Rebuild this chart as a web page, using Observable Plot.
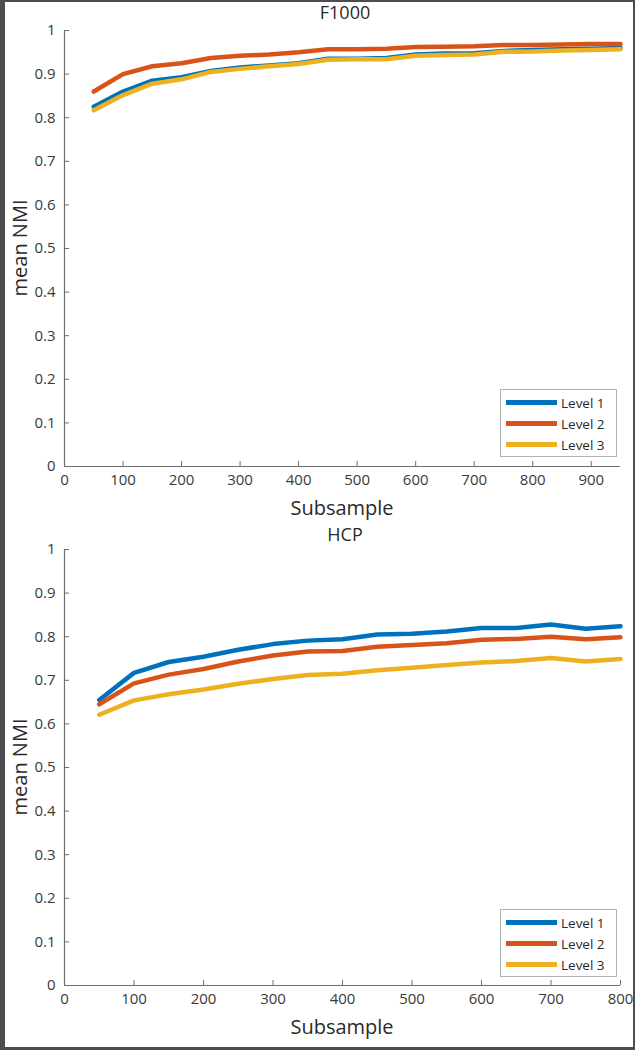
<!DOCTYPE html>
<html>
<head>
<meta charset="utf-8">
<script src="https://cdn.jsdelivr.net/npm/d3@7"></script>
<script src="https://cdn.jsdelivr.net/npm/@observablehq/plot@0.6"></script>
<style>
  html, body { margin: 0; padding: 0; background: #4d4d4d; }
  #frame { position: relative; width: 635px; height: 1050px; background: #4d4d4d; overflow: hidden; }
  #inner { position: absolute; left: 5px; top: 2px; right: 2px; bottom: 3px; background: #fff; }
  .abs { position: absolute; font-family: "Open Sans", sans-serif; color: #2a2a2a; line-height: 1; }
  .title { font-size: 18px; transform: translateX(-50%); white-space: nowrap; }
  .xlab { font-size: 20px; transform: translateX(-50%); white-space: nowrap; }
  .ylab { font-size: 20px; transform: translate(-50%, -50%) rotate(-90deg); white-space: nowrap; }
  .legend { border: 1px solid #b4b4b4; background: #fff; box-sizing: border-box; }
  .legrow { position: absolute; left: 0; height: 20px; width: 100%; }
  .legline { position: absolute; left: 5px; width: 51px; height: 5px; top: 7px; }
  .legtxt { position: absolute; left: 60px; top: 0; font-size: 13.5px; line-height: 20px; font-family: "Open Sans", sans-serif; color: #2a2a2a; }
  svg { position: absolute; left: 0; }
</style>
</head>
<body>
<div id="frame"><div id="inner"></div></div>
<script>
// ---- data ----
const levels = ["Level 1", "Level 2", "Level 3"];
const colors = ["#0072BD", "#D95319", "#EDB120"];

const f1000X = [50,100,150,200,250,300,350,400,450,500,550,600,650,700,750,800,850,900,950];
const f1000L1 = [0.825,0.860,0.885,0.893,0.907,0.915,0.920,0.925,0.935,0.935,0.937,0.945,0.947,0.948,0.953,0.955,0.957,0.958,0.960];
const f1000L2 = [0.860,0.900,0.918,0.925,0.937,0.942,0.945,0.950,0.957,0.957,0.958,0.962,0.963,0.964,0.967,0.967,0.968,0.969,0.969];
const f1000L3 = [0.817,0.852,0.878,0.888,0.905,0.912,0.918,0.923,0.933,0.934,0.934,0.942,0.944,0.945,0.951,0.952,0.954,0.955,0.957];

const hcpX = [50,100,150,200,250,300,350,400,450,500,550,600,650,700,750,800];
const hcpL1 = [0.655,0.717,0.742,0.754,0.770,0.783,0.791,0.794,0.805,0.807,0.812,0.820,0.820,0.828,0.818,0.824];
const hcpL2 = [0.645,0.693,0.713,0.726,0.743,0.757,0.766,0.767,0.777,0.781,0.785,0.793,0.795,0.800,0.794,0.799];
const hcpL3 = [0.621,0.654,0.668,0.679,0.692,0.703,0.712,0.715,0.723,0.729,0.735,0.741,0.744,0.751,0.743,0.749];

const yTicks = [0,0.1,0.2,0.3,0.4,0.5,0.6,0.7,0.8,0.9,1];
const yTickLabels = ["0","0.1","0.2","0.3","0.4","0.5","0.6","0.7","0.8","0.9","1"];
const f1000XTicks = [0,100,200,300,400,500,600,700,800,900];
const hcpXTicks = [0,100,200,300,400,500,600,700,800];

function rows(xs, series) {
  const out = [];
  series.forEach((vals, i) => vals.forEach((v, j) => out.push({x: xs[j], y: v, level: levels[i]})));
  return out;
}

const frame = document.getElementById("frame");
const axisColor = "#6e6e6e";
const textColor = "#3a3a3a";

function panel({top, xDomain, xTicks, data, title, titleTop, legendTop}) {
  const svg = Plot.plot({
    width: 635,
    height: 500,
    marginTop: 30,
    marginBottom: 500 - 30 - 436,
    marginLeft: 64,
    marginRight: 15,
    style: {fontFamily: "'Open Sans', sans-serif", fontSize: "15px", color: textColor, background: "transparent", overflow: "visible"},
    x: {domain: xDomain, label: null},
    y: {domain: [0, 1], label: null},
    color: {domain: levels, range: colors},
    marks: [
      Plot.ruleX([0], {stroke: axisColor, strokeWidth: 1.2}),
      Plot.ruleY([0], {stroke: axisColor, strokeWidth: 1.2}),
      Plot.axisY({ticks: yTicks, tickSize: 5, text: null, dx: 5, stroke: axisColor, label: null}),
      Plot.axisX({ticks: xTicks, tickSize: 5, text: null, dy: -5, stroke: axisColor, label: null}),
      Plot.axisY({ticks: yTicks, tickSize: 0, tickPadding: 9, tickFormat: (d) => yTickLabels[yTicks.indexOf(d)], label: null, fill: textColor}),
      Plot.axisX({ticks: xTicks, tickSize: 0, tickPadding: 8, tickFormat: (d) => String(d), label: null, fill: textColor}),
      Plot.line(data, {x: "x", y: "y", z: "level", stroke: "level", strokeWidth: 4.5, strokeLinejoin: "round"})
    ]
  });
  svg.style.top = top + "px";
  frame.appendChild(svg);

  const t = document.createElement("div");
  t.className = "abs title";
  t.style.left = "345px"; t.style.top = titleTop + "px";
  t.textContent = title;
  frame.appendChild(t);

  const xl = document.createElement("div");
  xl.className = "abs xlab";
  xl.style.left = "342px"; xl.style.top = (top + 498) + "px";
  xl.textContent = "Subsample";
  frame.appendChild(xl);

  const yl = document.createElement("div");
  yl.className = "abs ylab";
  yl.style.left = "20px"; yl.style.top = (top + 248) + "px";
  yl.textContent = "mean NMI";
  frame.appendChild(yl);

  const lg = document.createElement("div");
  lg.className = "abs legend";
  lg.style.left = "500px"; lg.style.top = legendTop + "px";
  lg.style.width = "117px"; lg.style.height = "68px";
  levels.forEach((lv, i) => {
    const r = document.createElement("div");
    r.className = "legrow";
    r.style.top = (3 + i * 21) + "px";
    const ln = document.createElement("div");
    ln.className = "legline"; ln.style.background = colors[i];
    const tx = document.createElement("div");
    tx.className = "legtxt"; tx.textContent = lv;
    r.appendChild(ln); r.appendChild(tx);
    lg.appendChild(r);
  });
  frame.appendChild(lg);
}

panel({top: 0, xDomain: [0, 950], xTicks: f1000XTicks, data: rows(f1000X, [f1000L1, f1000L2, f1000L3]), title: "F1000", titleTop: 3, legendTop: 389});
panel({top: 519, xDomain: [0, 800], xTicks: hcpXTicks, data: rows(hcpX, [hcpL1, hcpL2, hcpL3]), title: "HCP", titleTop: 525, legendTop: 909});
</script>
</body>
</html>
